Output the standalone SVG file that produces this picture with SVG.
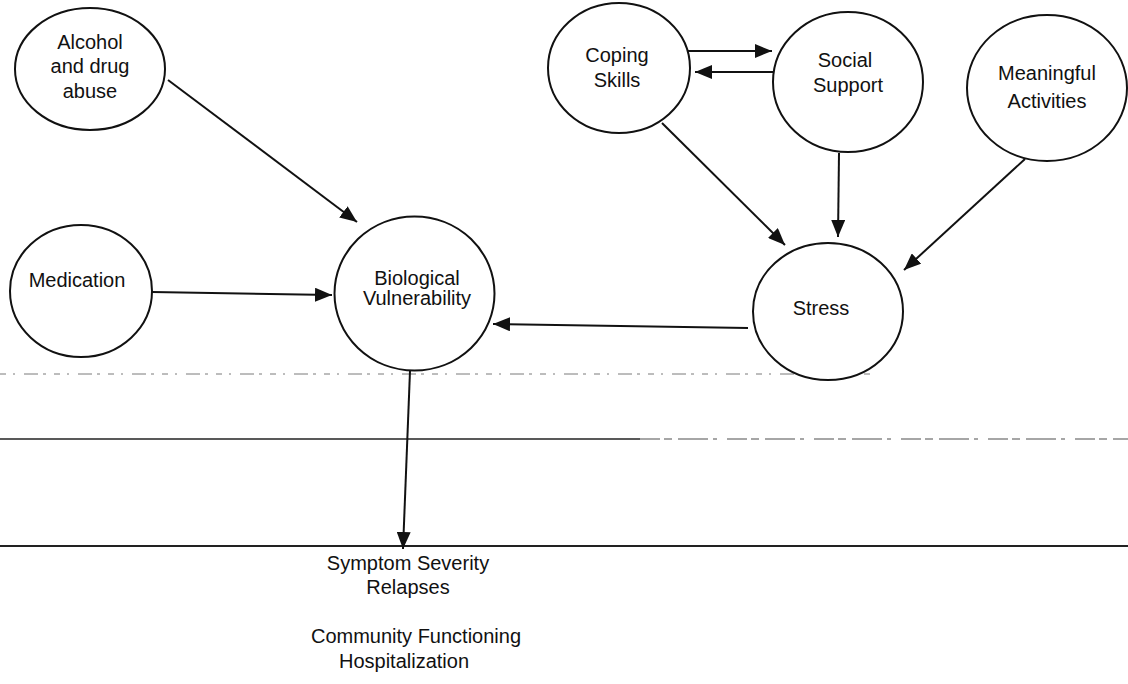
<svg xmlns="http://www.w3.org/2000/svg" width="1128" height="684" viewBox="0 0 1128 684">
  <defs>
    <style>
      .node { fill: #ffffff; stroke: #111111; stroke-width: 2; }
      .lbl { font-family: "Liberation Sans", Arial, sans-serif; font-size: 20px; fill: #111111; text-anchor: middle; }
      .edge { stroke: #111111; stroke-width: 2; fill: none; marker-end: url(#arr); }
      .rule { stroke: #222222; fill: none; }
    </style>
    <marker id="arr" markerUnits="userSpaceOnUse" markerWidth="18" markerHeight="14" refX="17" refY="7" orient="auto">
      <path d="M0,0 L17,7 L0,14 z" fill="#111111"/>
    </marker>
  </defs>
  <rect width="1128" height="684" fill="#ffffff"/>

  <g id="rules">
    <line class="rule" x1="0" y1="374" x2="875" y2="374" stroke-width="1" stroke-dasharray="6 7 2 9 14 5 3 8" opacity="0.6"/>
    <line class="rule" x1="0" y1="439" x2="640" y2="439" stroke-width="1.5"/>
    <line class="rule" x1="640" y1="439" x2="1128" y2="439" stroke-width="1.2" stroke-dasharray="20 4 8 6 30 5 4 10" opacity="0.8"/>
    <line class="rule" x1="0" y1="546" x2="1128" y2="546" stroke-width="1.8"/>
  </g>

  <g id="connectors">
    <line class="edge" x1="168" y1="80" x2="357" y2="222"/>
    <line class="edge" x1="152" y1="292" x2="332" y2="295"/>
    <line class="edge" x1="748" y1="328" x2="493" y2="324"/>
    <line class="edge" x1="688" y1="51" x2="772" y2="51"/>
    <line class="edge" x1="774" y1="72" x2="695" y2="72"/>
    <line class="edge" x1="662" y1="123" x2="785" y2="245"/>
    <line class="edge" x1="839" y1="153" x2="838" y2="237"/>
    <line class="edge" x1="1025" y1="159" x2="904" y2="270"/>
    <line class="edge" x1="410" y1="371" x2="403" y2="549"/>
  </g>

  <g id="alcohol">
    <ellipse class="node" cx="90" cy="69" rx="75" ry="61"/>
    <text class="lbl" x="90" y="49">Alcohol</text>
    <text class="lbl" x="90" y="73">and drug</text>
    <text class="lbl" x="90" y="98">abuse</text>
  </g>
  <g id="medication">
    <ellipse class="node" cx="81" cy="291" rx="71" ry="66"/>
    <text class="lbl" x="77" y="287">Medication</text>
  </g>
  <g id="biological">
    <ellipse class="node" cx="414.5" cy="293.5" rx="80" ry="77"/>
    <text class="lbl" x="417" y="285">Biological</text>
    <text class="lbl" x="417" y="305">Vulnerability</text>
  </g>
  <g id="coping">
    <ellipse class="node" cx="619" cy="68" rx="71" ry="65"/>
    <text class="lbl" x="617" y="62">Coping</text>
    <text class="lbl" x="617" y="87">Skills</text>
  </g>
  <g id="social">
    <ellipse class="node" cx="848" cy="82" rx="75" ry="70"/>
    <text class="lbl" x="845" y="67">Social</text>
    <text class="lbl" x="848" y="92">Support</text>
  </g>
  <g id="meaningful">
    <ellipse class="node" cx="1047" cy="88" rx="80" ry="73"/>
    <text class="lbl" x="1047" y="80">Meaningful</text>
    <text class="lbl" x="1047" y="108">Activities</text>
  </g>
  <g id="stress">
    <ellipse class="node" cx="828" cy="311.5" rx="75" ry="68.5"/>
    <text class="lbl" x="821" y="315">Stress</text>
  </g>
  <g id="outcomes">
    <text class="lbl" x="408" y="570">Symptom Severity</text>
    <text class="lbl" x="408" y="594">Relapses</text>
    <text class="lbl" x="416" y="643">Community Functioning</text>
    <text class="lbl" x="404" y="668">Hospitalization</text>
  </g>
</svg>
